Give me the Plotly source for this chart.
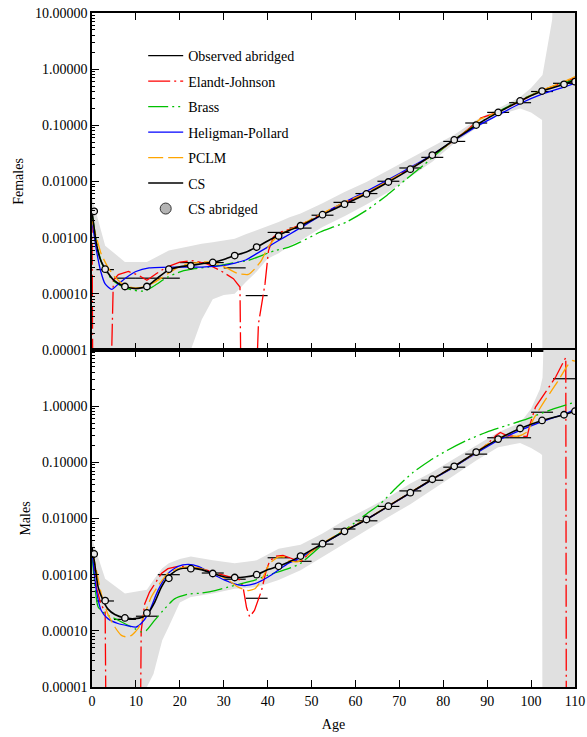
import plotly.graph_objects as go
from plotly.subplots import make_subplots

LOW = 1e-7   # values below the axis floor (curve leaves the panel)
HIGH = 100.0  # values above the axis ceiling

# ---------------- Females ----------------
f_obs_lo = [0, 1, 5, 10, 15, 20, 25, 30, 35, 40, 45, 50, 55, 60, 65, 70, 75, 80, 85, 90, 95, 100, 105]
f_obs_hi = [1, 5, 10, 15, 20, 25, 30, 35, 40, 45, 50, 55, 60, 65, 70, 75, 80, 85, 90, 95, 100, 105, 110]
f_obs = [0.0029, 0.00027, 0.00019, 0.00019, 0.00019, 0.00036, 0.00036, 0.00029, 0.000093, 0.00124,
         0.00148, 0.00251, 0.00425, 0.0061, 0.0101, 0.0174, 0.0269, 0.0517, 0.110, 0.170, 0.253, 0.40, 0.56]

f_abr_age = [0.5, 3, 7.5, 12.5, 17.5, 22.5, 27.5, 32.5, 37.5, 42.5, 47.5, 52.5, 57.5, 62.5, 67.5,
             72.5, 77.5, 82.5, 87.5, 92.5, 97.5, 102.5, 107.5, 110]
f_abr = [0.00295, 0.000275, 0.000135, 0.000135, 0.000275, 0.000316, 0.000363, 0.00048, 0.00068, 0.00107,
         0.00163, 0.00257, 0.00394, 0.0060, 0.0098, 0.0166, 0.0296, 0.055, 0.101, 0.170, 0.272, 0.407, 0.537, 0.60]

f_cs_age = [0, 1, 2, 3, 5, 7.5, 10, 12.5, 15, 17.5, 20, 22.5, 25, 27.5, 30, 32.5, 35, 37.5, 40, 42.5, 45,
            47.5, 52.5, 57.5, 62.5, 67.5, 72.5, 77.5, 82.5, 87.5, 92.5, 97.5, 102.5, 107.5, 110]
f_cs = [0.003, 0.00078, 0.00039, 0.00028, 0.000174, 0.000135, 0.000124, 0.000135, 0.000193, 0.000268,
        0.000302, 0.00032, 0.000343, 0.000363, 0.000408, 0.00048, 0.00055, 0.00068, 0.00087, 0.0011, 0.00135,
        0.00163, 0.00257, 0.00394, 0.0060, 0.0098, 0.0166, 0.0296, 0.055, 0.101, 0.170, 0.272, 0.407, 0.537, 0.64]

f_ej_age = [0, 0.25, 3.9, 4.86, 6, 8.3, 10.6, 12.5, 14.7, 17, 20, 23, 26.1, 29.2, 32.2, 33.7, 34.1, 36.8,
            37.9, 38.7, 39.4, 40.2, 41.3, 42.8, 45, 47.5, 52.5, 57.5, 62.5, 67.5, 72.5, 77.5, 82.5, 86,
            88.5, 92.5, 97.5, 102.5, 107.5, 110]
f_ej = [0.003, LOW, LOW, 0.000174, 0.00022, 0.00025, 0.000214, 0.000174, 0.00023, 0.0003, 0.000367, 0.00039,
        0.000343, 0.000261, 0.000186, 0.000132, LOW, LOW, 0.000029, 0.000066, 0.00015, 0.00059, 0.00102,
        0.00126, 0.0014, 0.0017, 0.0027, 0.0042, 0.0062, 0.0101, 0.0172, 0.029, 0.054, 0.09, 0.135, 0.172,
        0.27, 0.42, 0.58, 0.70]

f_br_age = [0, 1.4, 2.9, 5.2, 7.4, 9.7, 12, 14.3, 17.3, 20.4, 23.4, 26.4, 29.5, 32.5, 35.6, 38.6, 41.6,
            44.7, 47.4, 52, 55, 58, 62.6, 67.2, 71.7, 75.5, 78.6, 82.5, 87.5, 92.5, 97.5, 102.5, 107.5, 110]
f_br = [0.0027, 0.00059, 0.000262, 0.000162, 0.000129, 0.000115, 0.000112, 0.000141, 0.0002, 0.000252,
        0.000281, 0.000299, 0.000323, 0.000358, 0.000394, 0.000481, 0.000587, 0.00067, 0.00083, 0.00126,
        0.00155, 0.0019, 0.0031, 0.0057, 0.0112, 0.0195, 0.0316, 0.056, 0.102, 0.175, 0.28, 0.42, 0.57, 0.66]

f_hp_age = [0, 1, 2, 3, 4.5, 6, 8, 10, 13, 20, 25, 30, 35, 37.5, 40, 42.5, 45, 47.5, 52.5, 57.5, 62.5,
            67.5, 72.5, 77.5, 82.5, 87.5, 92.5, 97.5, 102.5, 107.5, 110]
f_hp = [0.002, 0.0006, 0.00025, 0.00015, 0.00012, 0.00015, 0.0002, 0.00025, 0.00029, 0.0003, 0.0003,
        0.00032, 0.0004, 0.00052, 0.00068, 0.00089, 0.00115, 0.0015, 0.0026, 0.0043, 0.0067, 0.0108, 0.0178,
        0.030, 0.054, 0.095, 0.153, 0.245, 0.36, 0.48, 0.56]

f_pc_age = [0, 1, 2.1, 3.6, 5.2, 7.4, 9.7, 12, 14.3, 17.3, 19.6, 21.9, 24.9, 27.2, 29.5, 31, 33.3, 35.6,
            37.1, 38.6, 40.1, 42.4, 44.7, 47.5, 52.5, 57.5, 62.5, 67.5, 72.5, 77.5, 82.5, 86, 88.5, 92.5,
            97.5, 102.5, 107.5, 110]
f_pc = [0.002, 0.00102, 0.00051, 0.0003, 0.0002, 0.000141, 0.000128, 0.000135, 0.000162, 0.000229, 0.0003,
        0.000343, 0.000367, 0.000367, 0.00032, 0.00028, 0.000229, 0.000221, 0.00028, 0.000394, 0.00068,
        0.0011, 0.00135, 0.0017, 0.0027, 0.0043, 0.0063, 0.0103, 0.0172, 0.029, 0.054, 0.088, 0.13, 0.172,
        0.275, 0.42, 0.60, 0.74]

f_band_age = [0, 3, 7.5, 12.5, 17.5, 21, 22.5, 25, 27.5, 30, 32.5, 35, 37.5, 40, 42.5, 45, 47.5, 52.5,
              57.5, 62.5, 67.5, 72.5, 77.5, 82.5, 87.5, 92.5, 97.5, 100, 102.5, 102.6, 104.8, 105.2, 110]
f_band_hi = [0.0052, 0.00072, 0.00037, 0.00037, 0.00059, 0.00068, 0.00072, 0.00078, 0.00083, 0.0009,
             0.00096, 0.00115, 0.00135, 0.0016, 0.0019, 0.0023, 0.0027, 0.0041, 0.0065, 0.0098, 0.0159,
             0.0257, 0.042, 0.068, 0.125, 0.20, 0.32, 0.46, 0.75, 0.79, 7.6, HIGH, HIGH]
f_band_lo = [LOW, LOW, LOW, LOW, LOW, LOW, 1e-5, 3.5e-5, 8e-5, 9.5e-5, 0.0001, 0.00016, 0.00025, 0.00042,
             0.00053, 0.00072, 0.00089, 0.00155, 0.0024, 0.0039, 0.0065, 0.012, 0.0224, 0.048, 0.089, 0.15,
             0.20, 0.17, 0.124, LOW, LOW, LOW, LOW]

# ---------------- Males ----------------
m_obs_lo = [0, 1, 5, 10, 15, 20, 25, 30, 35, 40, 45, 50, 55, 60, 65, 70, 75, 80, 85, 90, 95, 100, 105]
m_obs_hi = [1, 5, 10, 15, 20, 25, 30, 35, 40, 45, 50, 55, 60, 65, 70, 75, 80, 85, 90, 95, 100, 105, 110]
m_obs = [0.00234, 0.00034, 0.00016, 0.000182, 0.0010, 0.0013, 0.00107, 0.00083, 0.00038, 0.0020, 0.00173,
         0.0035, 0.0065, 0.0091, 0.0164, 0.031, 0.048, 0.082, 0.14, 0.274, 0.274, 0.78, 3.08]

m_abr_age = [0.5, 3, 7.5, 12.5, 17.5, 22.5, 27.5, 32.5, 37.5, 42.5, 47.5, 52.5, 57.5, 62.5, 67.5,
             72.5, 77.5, 82.5, 87.5, 92.5, 97.5, 102.5, 107.5, 110]
m_abr = [0.00234, 0.000345, 0.00017, 0.000208, 0.00086, 0.00128, 0.00105, 0.00089, 0.00100, 0.00141,
         0.00214, 0.00356, 0.0059, 0.0096, 0.0166, 0.0288, 0.050, 0.085, 0.152, 0.259, 0.40, 0.557, 0.703, 0.815]

m_cs_age = [0, 0.6, 1.4, 2.5, 3.6, 5.2, 7.4, 9.7, 11.6, 12.8, 14.3, 15.8, 17.3, 19.6, 22.5, 24.9, 27.5,
            30.2, 32.5, 34.8, 37.5, 40.1, 42.5, 44.7, 47.5, 52.5, 57.5, 62.5, 67.5, 72.5, 77.5, 82.5, 87.5,
            92.5, 97.5, 102.5, 107.5, 110]
m_cs = [0.0031, 0.0016, 0.0006, 0.00035, 0.000246, 0.000195, 0.00017, 0.000165, 0.000177, 0.000208,
        0.000326, 0.0006, 0.00091, 0.00123, 0.00131, 0.00123, 0.00105, 0.00091, 0.00089, 0.00091, 0.0010,
        0.00123, 0.00141, 0.00166, 0.00214, 0.00356, 0.0059, 0.0096, 0.0166, 0.0288, 0.050, 0.085, 0.152,
        0.259, 0.40, 0.557, 0.703, 0.815]

m_ej_age = [0, 1, 2, 3, 3.3, 10.9, 11.2, 12, 13.1, 14.3, 15.8, 17.3, 19.6, 22.6, 25.7, 28.7, 31.8, 33.7,
            34.4, 35.2, 35.9, 37, 38.6, 39.7, 40.5, 42, 43.5, 45, 47.5, 50, 52.5, 57.5, 62.5, 67.5, 72.5,
            77.5, 82.5, 87.5, 90, 92, 93, 94.6, 97, 99.1, 99.8, 101, 103.3, 105.6, 107.9, 108.05, 110]
m_ej = [0.0028, 0.0006, 0.0003, 0.00022, LOW, LOW, 0.0001, 0.0003, 0.00049, 0.00069, 0.00105, 0.00128,
        0.00141, 0.00138, 0.00123, 0.00105, 0.00091, 0.00081, 0.0006, 0.00026, 0.000178, 0.00023, 0.00052,
        0.0012, 0.00178, 0.00213, 0.0022, 0.0020, 0.0017, 0.0026, 0.0035, 0.0060, 0.0096, 0.0166, 0.029,
        0.050, 0.085, 0.150, 0.21, 0.30, 0.34, 0.295, 0.29, 0.29, 0.49, 0.96, 1.78, 3.3, 7.4, LOW, LOW]

m_br_age = [0, 0.6, 1.4, 2.9, 5.2, 7.4, 9.7, 11.2, 12.4, 14.3, 16.6, 18.8, 21.9, 24.9, 28, 31, 34, 37.1,
            40.1, 44.7, 47.4, 52.5, 58, 62.6, 65.6, 69.4, 73.2, 77, 80.8, 85.3, 89.9, 94.5, 99.1, 103.6, 110]
m_br = [0.0023, 0.00069, 0.000265, 0.000203, 0.000166, 0.000135, 0.00011, 0.000096, 0.000102, 0.000155,
        0.00025, 0.00037, 0.00045, 0.00047, 0.00052, 0.0006, 0.00069, 0.0008, 0.00098, 0.00128, 0.00158,
        0.0034, 0.0066, 0.0122, 0.018, 0.036, 0.067, 0.108, 0.162, 0.245, 0.345, 0.455, 0.596, 0.815, 1.18]

m_hp_age = [0, 1, 2.1, 3.6, 5.9, 8.2, 10.1, 11.2, 12.8, 15, 17.3, 19.6, 21.9, 24.2, 27.2, 30.2, 33.3,
            34.8, 37.1, 40.1, 42.4, 44.7, 47.5, 52.5, 57.5, 62.5, 67.5, 72.5, 77.5, 82.5, 87.5, 92.5, 97.5,
            102.5, 107.5, 110]
m_hp = [0.0027, 0.00052, 0.00023, 0.000165, 0.000135, 0.000123, 0.000117, 0.000135, 0.0002, 0.00052,
        0.00105, 0.00141, 0.00152, 0.00141, 0.00105, 0.0008, 0.00066, 0.00064, 0.00069, 0.00091, 0.0012,
        0.00159, 0.0020, 0.0035, 0.0059, 0.0096, 0.0165, 0.0285, 0.049, 0.083, 0.145, 0.245, 0.37, 0.53,
        0.72, 0.88]

m_pc_age = [0, 1, 2.1, 3.6, 5.2, 6.7, 7.8, 9, 10.5, 12, 13.5, 15.4, 17.3, 19.6, 21.9, 24.9, 28, 31, 33.3,
            35.6, 37.1, 38.6, 40.5, 42.4, 43.9, 44.7, 47, 50, 52.5, 57.5, 62.5, 67.5, 72.5, 77.5, 82.5, 87.5,
            90, 92.5, 94.6, 96.9, 99.1, 100.6, 102.9, 106, 108.3, 109.4, 110]
m_pc = [0.0027, 0.0012, 0.00046, 0.0002, 0.000117, 0.000083, 0.000078, 0.000083, 0.00011, 0.0002, 0.0004,
        0.00069, 0.00105, 0.00128, 0.00138, 0.00128, 0.00105, 0.0008, 0.0006, 0.00052, 0.00056, 0.0008,
        0.00159, 0.00206, 0.00206, 0.00178, 0.0017, 0.0026, 0.0036, 0.0062, 0.0097, 0.0168, 0.029, 0.050,
        0.085, 0.150, 0.21, 0.27, 0.30, 0.29, 0.35, 0.60, 1.18, 2.7, 5.3, 6.5, 6.3]

m_band_age = [0, 3, 7.5, 12, 12.5, 14, 16, 17.5, 20, 22.5, 27.5, 32.5, 37.5, 42.5, 47.5, 52.5, 57.5, 62.5,
              67.5, 72.5, 77.5, 82.5, 87.5, 92.5, 97.5, 100, 102, 102.5, 102.6, 103.2, 110]
m_band_hi = [0.0044, 0.00085, 0.00046, 0.00053, 0.00054, 0.0008, 0.0013, 0.0016, 0.0019, 0.0021, 0.0018,
             0.0016, 0.0018, 0.0029, 0.0034, 0.0054, 0.0093, 0.0148, 0.024, 0.042, 0.067, 0.116, 0.20, 0.345,
             0.50, 0.90, 2.0, 3.0, 3.2, HIGH, HIGH]
m_band_lo = [LOW, LOW, LOW, LOW, 1e-5, 1.7e-5, 6.8e-5, 0.00012, 0.00032, 0.0004, 0.00046, 0.00056, 0.0006,
             0.0008, 0.0012, 0.00205, 0.0035, 0.0061, 0.0106, 0.018, 0.032, 0.059, 0.108, 0.186, 0.22, 0.18,
             0.145, 0.135, LOW, LOW, LOW]

x_ticks = [0, 10, 20, 30, 40, 50, 60, 70, 80, 90, 100, 110]
y_ticks_top = [1e-5, 1e-4, 1e-3, 1e-2, 1e-1, 1, 10]
y_text_top = ["0.00001", "0.00010", "0.00100", "0.01000", "0.10000", "1.00000", "10.00000"]
y_ticks_bot = [1e-5, 1e-4, 1e-3, 1e-2, 1e-1, 1]
y_text_bot = ["0.00001", "0.00010", "0.00100", "0.01000", "0.10000", "1.00000"]

FONT = "Liberation Serif, Times New Roman, Times, DejaVu Serif, serif"
RED, GREEN, BLUE, ORANGE = "#ff0000", "#00c000", "#0000ff", "#ffa500"
DASH_EJ = "22px,4px,2px,4px"
DASH_BR = "20px,4px,2px,4px,2px,4px"
DASH_PC = "15px,5px"
BAND = "#e0e0e0"

fig = make_subplots(rows=2, cols=1, shared_xaxes=True, vertical_spacing=0)


def seg_xy(lo, hi, v):
    xs, ys = [], []
    for a, b, c in zip(lo, hi, v):
        xs += [a, b, None]
        ys += [c, c, None]
    return xs, ys


def add_panel(row, obs_lo, obs_hi, obs, abr_age, abr, cs_age, cs, ej_age, ej, br_age, br,
              hp_age, hp, pc_age, pc, b_age, b_lo, b_hi):
    leg = row == 1
    fig.add_trace(go.Scatter(x=b_age + b_age[::-1], y=b_hi + b_lo[::-1], fill="toself",
                             fillcolor=BAND, line=dict(width=0), mode="lines", showlegend=False,
                             hoverinfo="skip"), row=row, col=1)
    sx, sy = seg_xy(obs_lo, obs_hi, obs)
    fig.add_trace(go.Scatter(x=sx, y=sy, mode="lines", line=dict(color="black", width=1.2),
                             name="Observed abridged", legendgroup="g1", legendrank=1,
                             showlegend=leg), row=row, col=1)
    fig.add_trace(go.Scatter(x=ej_age, y=ej, mode="lines", line=dict(color=RED, width=1.3, dash=DASH_EJ),
                             name="Elandt-Johnson", legendgroup="g2", legendrank=2,
                             showlegend=leg), row=row, col=1)
    fig.add_trace(go.Scatter(x=br_age, y=br, mode="lines",
                             line=dict(color=GREEN, width=1.3, dash=DASH_BR, shape="spline", smoothing=0.6),
                             name="Brass", legendgroup="g3", legendrank=3, showlegend=leg), row=row, col=1)
    fig.add_trace(go.Scatter(x=hp_age, y=hp, mode="lines",
                             line=dict(color=BLUE, width=1.3, shape="spline", smoothing=0.6),
                             name="Heligman-Pollard", legendgroup="g4", legendrank=4,
                             showlegend=leg), row=row, col=1)
    fig.add_trace(go.Scatter(x=pc_age, y=pc, mode="lines",
                             line=dict(color=ORANGE, width=1.3, dash=DASH_PC, shape="spline", smoothing=0.5),
                             name="PCLM", legendgroup="g5", legendrank=5, showlegend=leg), row=row, col=1)
    fig.add_trace(go.Scatter(x=cs_age, y=cs, mode="lines",
                             line=dict(color="black", width=1.6, shape="spline", smoothing=0.6),
                             name="CS", legendgroup="g6", legendrank=6, showlegend=leg), row=row, col=1)
    fig.add_trace(go.Scatter(x=abr_age, y=abr, mode="markers",
                             marker=dict(symbol="circle", size=6.5, color="#e8e8e8",
                                         line=dict(color="black", width=1.3)),
                             showlegend=False, cliponaxis=True), row=row, col=1)


add_panel(1, f_obs_lo, f_obs_hi, f_obs, f_abr_age, f_abr, f_cs_age, f_cs, f_ej_age, f_ej, f_br_age, f_br,
          f_hp_age, f_hp, f_pc_age, f_pc, f_band_age, f_band_lo, f_band_hi)
add_panel(2, m_obs_lo, m_obs_hi, m_obs, m_abr_age, m_abr, m_cs_age, m_cs, m_ej_age, m_ej, m_br_age, m_br,
          m_hp_age, m_hp, m_pc_age, m_pc, m_band_age, m_band_lo, m_band_hi)

# legend-only entry for the abridged circles (larger grey symbol)
fig.add_trace(go.Scatter(x=[None], y=[None], mode="markers", name="CS abridged",
                         marker=dict(symbol="circle", size=11, color="#b4b4b4",
                                     line=dict(color="#333333", width=1)),
                         legendgroup="g7", legendrank=7), row=1, col=1)

minor_vals = [m * 10.0 ** e for e in range(-5, 1) for m in range(2, 10)]

axis_common = dict(showline=True, linecolor="black", linewidth=1.5, ticks="inside",
                   tickcolor="black", showgrid=False, zeroline=False, automargin=False,
                   tickfont=dict(family=FONT, size=14, color="black"))

for r in (1, 2):
    fig.update_xaxes(range=[0, 110], tickvals=x_ticks, ticklen=7, tickwidth=1.2, mirror="ticks",
                     row=r, col=1, **axis_common)
    fig.update_yaxes(type="log", range=[-5, 1], ticklen=7, tickwidth=1.2, mirror=True,
                     minor=dict(ticks="inside", ticklen=3.5, tickwidth=1, tickcolor="black",
                                tickvals=minor_vals, showgrid=False),
                     row=r, col=1, **axis_common)

fig.update_xaxes(showticklabels=False, row=1, col=1)
fig.update_xaxes(title=dict(text="Age", font=dict(family=FONT, size=14, color="black"), standoff=12),
                 row=2, col=1)
fig.update_yaxes(tickvals=y_ticks_top, ticktext=y_text_top,
                 title=dict(text="Females", font=dict(family=FONT, size=14, color="black"), standoff=8),
                 row=1, col=1)
fig.update_yaxes(tickvals=y_ticks_bot, ticktext=y_text_bot,
                 title=dict(text="Males", font=dict(family=FONT, size=14, color="black"), standoff=8),
                 row=2, col=1)

fig.update_layout(
    width=587, height=737,
    margin=dict(l=92, r=12, t=13, b=50),
    plot_bgcolor="white", paper_bgcolor="white",
    font=dict(family=FONT, size=14, color="black"),
    legend=dict(x=0.106, y=0.960, xanchor="left", yanchor="top", bgcolor="rgba(0,0,0,0)",
                font=dict(family=FONT, size=14, color="black"), tracegroupgap=4.3, itemwidth=35),
    showlegend=True,
)

fig.write_html("out.html", config={"displayModeBar": False},
               post_script="document.body.style.margin='0';")
